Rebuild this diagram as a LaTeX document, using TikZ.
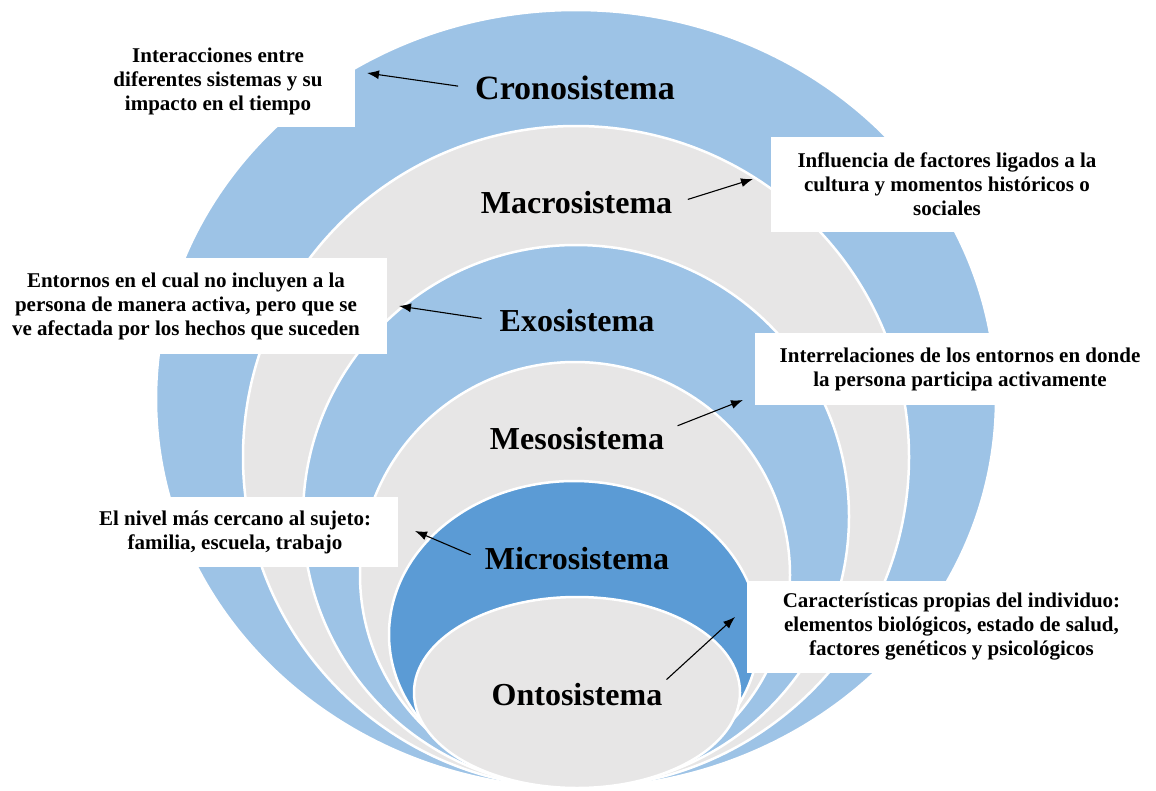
\documentclass[tikz,border=0pt]{standalone}
\usepackage{fontspec}
\setmainfont{Liberation Serif}
\usetikzlibrary{arrows.meta}
\definecolor{azulclaro}{HTML}{9DC3E6}
\definecolor{gris}{HTML}{E7E6E6}
\definecolor{azul}{HTML}{5B9BD5}
\tikzset{
  capa/.style={draw=white,line width=2.5pt},
  sistema/.style={font=\fontsize{32}{38}\selectfont\bfseries,inner sep=4pt},
  nota/.style={fill=white,align=center,inner sep=0pt,font=\fontsize{21}{24}\selectfont\bfseries}
}
\begin{document}
\begin{tikzpicture}[x=1pt,y=-1pt,>={Latex[length=12pt,width=9pt]}]
\useasboundingbox (0,0) rectangle (1156,790);
\filldraw[capa,fill=azulclaro] (576,399) ellipse [x radius=420,y radius=389];
\filldraw[capa,fill=gris] (576,457) ellipse [x radius=333,y radius=331];
\filldraw[capa,fill=azulclaro] (576,516.5) ellipse [x radius=273,y radius=271.5];
\filldraw[capa,fill=gris] (575,575) ellipse [x radius=215,y radius=213];
\filldraw[capa,fill=azul] (574,634.5) ellipse [x radius=185,y radius=153.5];
\filldraw[capa,fill=gris] (577,692.5) ellipse [x radius=163,y radius=95.5];
\node[nota,minimum width=274pt,minimum height=91pt] (n1) at (218,81.5) {Interacciones entre\\diferentes sistemas y su\\impacto en el tiempo};
\node[nota,minimum width=352pt,minimum height=95pt] (n2) at (947,184.5) {Influencia de factores ligados a la\\cultura y momentos históricos o\\sociales};
\node[nota,minimum width=402pt,minimum height=96pt] (n3) at (186,306) {Entornos en el cual no incluyen a la\\persona de manera activa, pero que se\\ve afectada por los hechos que suceden};
\node[nota,minimum width=410pt,minimum height=72pt] (n4) at (960,369) {Interrelaciones de los entornos en donde\\la persona participa activamente};
\node[nota,minimum width=326pt,minimum height=70pt] (n5) at (235,532) {El nivel más cercano al sujeto:\\familia, escuela, trabajo};
\node[nota,minimum width=409pt,minimum height=92pt] (n6) at (951.5,627) {Características propias del individuo:\\elementos biológicos, estado de salud,\\factores genéticos y psicológicos};
\node[sistema,font=\fontsize{34}{40}\selectfont\bfseries] (crono) at (575,88) {Cronosistema};
\node[sistema] (macro) at (576.5,203) {Macrosistema};
\node[sistema] (exo) at (577,320.5) {Exosistema};
\node[sistema] (meso) at (577,439) {Mesosistema};
\node[sistema] (micro) at (577,559) {Microsistema};
\node[sistema] (onto) at (577,695) {Ontosistema};
\coordinate (t1) at (367,73);
\coordinate (t2) at (753,179);
\coordinate (t3) at (399,306);
\coordinate (t4) at (743,400);
\coordinate (t5) at (415,531);
\coordinate (t6) at (735,617);
\draw[->,line width=1.1pt,shorten <=13pt] (crono.west)--(t1);
\draw[->,line width=1.1pt,shorten <=12pt] (macro.east)--(t2);
\draw[->,line width=1.1pt,shorten <=14pt] (exo.west)--(t3);
\draw[->,line width=1.1pt,shorten <=10pt] (meso.6)--(t4);
\draw[->,line width=1.1pt,shorten <=11pt] (micro.west)--(t5);
\draw[->,line width=1.1pt] (onto.north east)--(t6);
\end{tikzpicture}
\end{document}
